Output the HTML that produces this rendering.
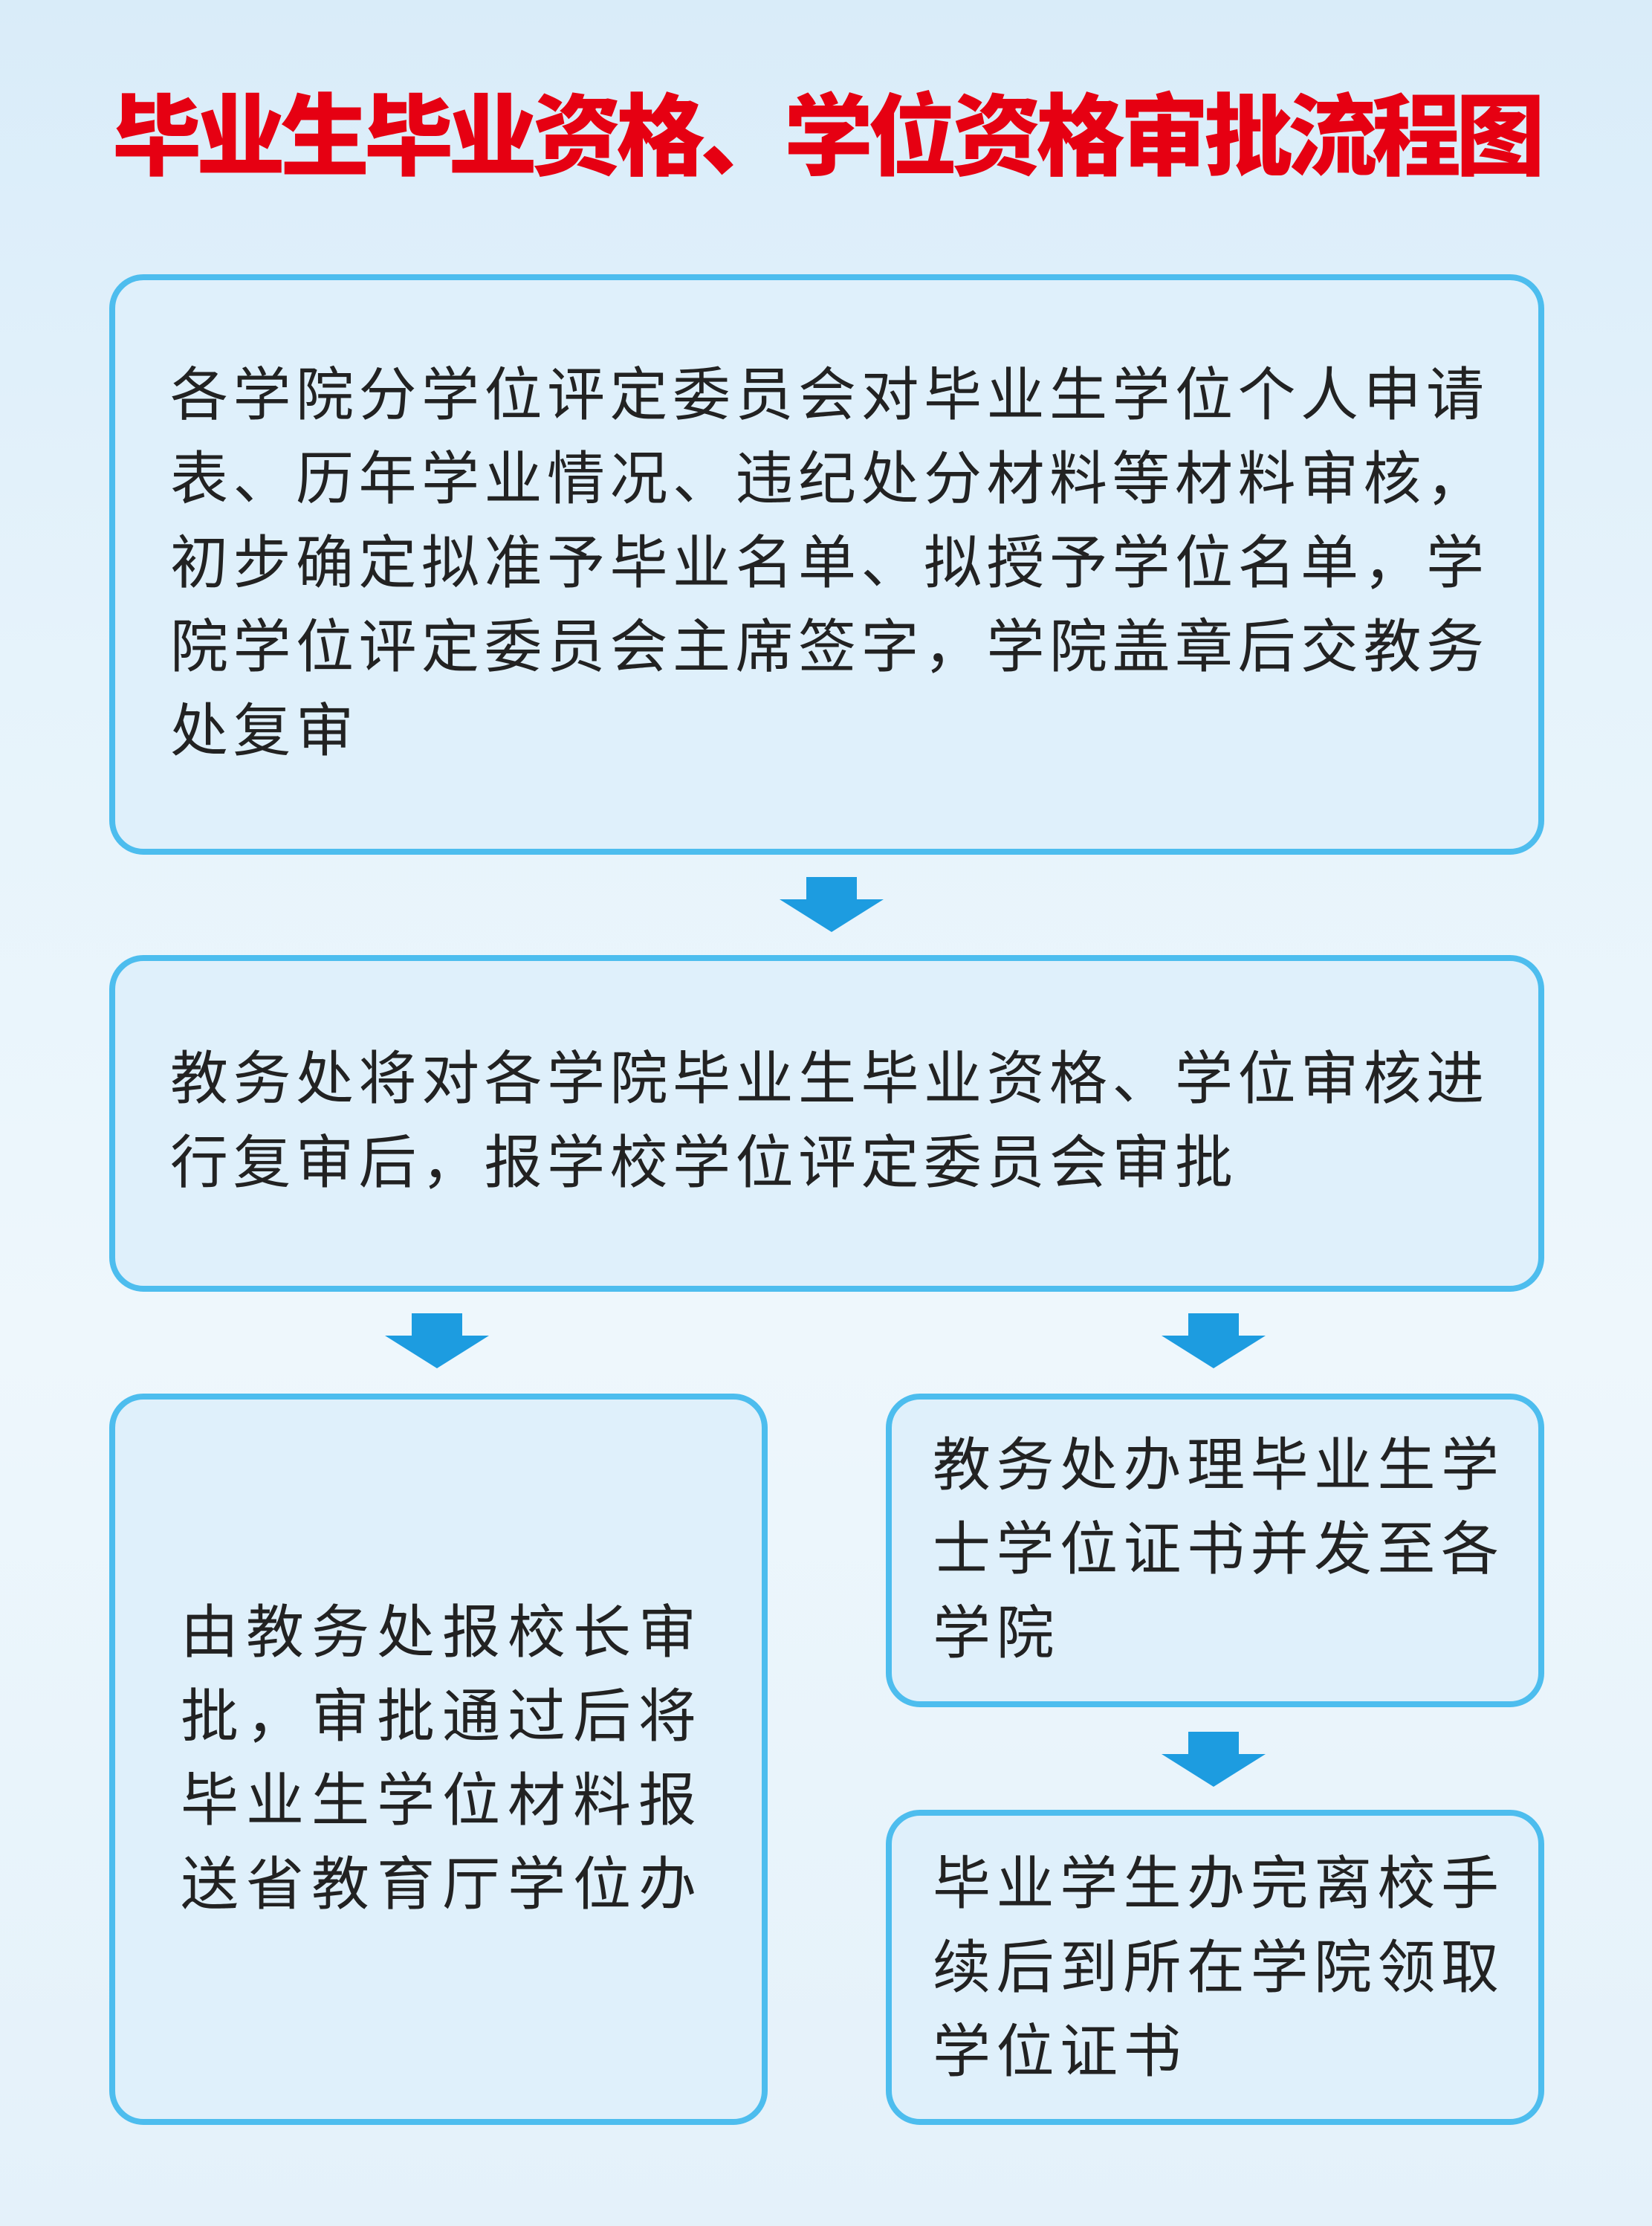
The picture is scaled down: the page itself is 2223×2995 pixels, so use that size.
<!DOCTYPE html>
<html><head><meta charset="utf-8"><style>
body{margin:0;}
#p{position:relative;width:2223px;height:2995px;overflow:hidden;background:linear-gradient(180deg,#d9ecf9 0%,#e6f3fb 30%,#eef7fc 60%,#e4f1fa 100%);font-family:"Liberation Sans","Noto Sans CJK SC",sans-serif;}
.t{position:absolute;left:0;width:2223px;top:110px;text-align:center;font-size:120px;font-weight:900;color:#e60012;line-height:150px;letter-spacing:-7px;}
.b{position:absolute;box-sizing:border-box;border:8px solid #4dbdee;border-radius:46px;background:#dff0fb;}
.x{position:absolute;font-size:78px;color:#222;line-height:113px;white-space:nowrap;}
.a{position:absolute;width:140px;height:74px;}
</style></head><body><div id="p">
<div class="t">毕业生毕业资格、学位资格审批流程图</div>

<div class="b" style="left:147px;top:369px;width:1931px;height:781px"></div>
<div class="x" style="left:229px;top:475px;letter-spacing:6.5px">各学院分学位评定委员会对毕业生学位个人申请<br>表、历年学业情况、违纪处分材料等材料审核，<br>初步确定拟准予毕业名单、拟授予学位名单，学<br>院学位评定委员会主席签字，学院盖章后交教务<br>处复审</div>

<svg class="a" style="left:1049px;top:1180px" viewBox="0 0 140 74"><path d="M36 0H104V30H140L70 74L0 30H36Z" fill="#1d9ce0"/></svg>

<div class="b" style="left:147px;top:1285px;width:1931px;height:453px"></div>
<div class="x" style="left:229px;top:1395px;letter-spacing:6.5px">教务处将对各学院毕业生毕业资格、学位审核进<br>行复审后，报学校学位评定委员会审批</div>

<svg class="a" style="left:518px;top:1767px" viewBox="0 0 140 74"><path d="M36 0H104V30H140L70 74L0 30H36Z" fill="#1d9ce0"/></svg>
<svg class="a" style="left:1563px;top:1767px" viewBox="0 0 140 74"><path d="M36 0H104V30H140L70 74L0 30H36Z" fill="#1d9ce0"/></svg>

<div class="b" style="left:147px;top:1875px;width:886px;height:984px"></div>
<div class="x" style="left:243px;top:2140px;letter-spacing:10px">由教务处报校长审<br>批，审批通过后将<br>毕业生学位材料报<br>送省教育厅学位办</div>

<div class="b" style="left:1192px;top:1875px;width:886px;height:422px"></div>
<div class="x" style="left:1255px;top:1915px;letter-spacing:7.5px">教务处办理毕业生学<br>士学位证书并发至各<br>学院</div>

<svg class="a" style="left:1563px;top:2330px" viewBox="0 0 140 74"><path d="M36 0H104V30H140L70 74L0 30H36Z" fill="#1d9ce0"/></svg>

<div class="b" style="left:1192px;top:2435px;width:886px;height:424px"></div>
<div class="x" style="left:1255px;top:2478px;letter-spacing:7.5px">毕业学生办完离校手<br>续后到所在学院领取<br>学位证书</div>
</div></body></html>
